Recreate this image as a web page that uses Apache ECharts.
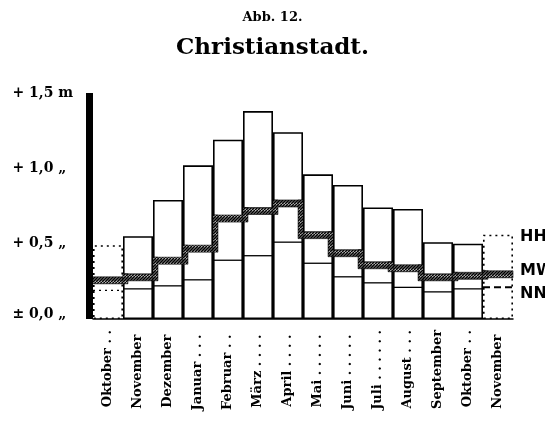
<!DOCTYPE html>
<html><head><meta charset="utf-8">
<script src="https://cdn.jsdelivr.net/npm/echarts@6/dist/echarts.min.js"></script>
<style>html,body{margin:0;padding:0;background:#fff}#c{width:545px;height:428px}</style>
</head><body><div id="c"></div>
<script>
const months = ['Oktober','November','Dezember','Januar','Februar','März','April','Mai','Juni','Juli','August','September','Oktober','November'];
const hhw = [0.49,0.55,0.79,1.02,1.19,1.38,1.24,0.96,0.89,0.74,0.73,0.51,0.50,0.56];
const mw  = [0.28,0.30,0.41,0.49,0.69,0.74,0.79,0.58,0.46,0.38,0.36,0.30,0.31,0.32];
const nnw = [0.19,0.20,0.22,0.26,0.39,0.42,0.51,0.37,0.28,0.24,0.21,0.18,0.20,0.21];
const yTickLabels = ['± 0,0 „','+ 0,5 „','+ 1,0 „','+ 1,5 m'];
const sideLabels = ['HHW','MW','NNW'];

const n = months.length;
const isPartial = i => i === 0 || i === n - 1;

function hatch(){
  const c = document.createElement('canvas'); c.width = 6; c.height = 6;
  const g = c.getContext('2d');
  g.fillStyle = '#fff'; g.fillRect(0,0,6,6);
  g.strokeStyle = '#000'; g.lineWidth = 1.6;
  g.beginPath();
  for (let k = -6; k <= 12; k += 3) { g.moveTo(k, 6); g.lineTo(k + 6, 0); }
  g.stroke();
  return c;
}
const hatchFill = {image: hatch(), repeat: 'repeat'};
const BAND = 7;

const chart = echarts.init(document.getElementById('c'), null, {renderer:'canvas'});
chart.setOption({
  animation: false,
  backgroundColor: '#fff',
  title: [
    {text: 'Abb. 12.', left: 'center', top: 6, textStyle: {fontFamily: 'DejaVu Serif', fontWeight: 'bold', fontSize: 13, color: '#000'}},
    {text: 'Christianstadt.', left: 'center', top: 32, textStyle: {fontFamily: 'DejaVu Serif', fontWeight: 'bold', fontSize: 23, color: '#000'}}
  ],
  grid: {left: 93, right: 32, top: 93, bottom: 109},
  xAxis: {
    type: 'category', data: months, boundaryGap: true,
    axisLine: {show: true, lineStyle: {color: '#000', width: 1.5}},
    axisTick: {show: false},
    axisLabel: {
      rotate: 90, margin: 11, interval: 0, width: 82, overflow: 'truncate', ellipsis: '',
      color: '#000', fontFamily: 'DejaVu Serif', fontWeight: 'bold', fontSize: 13,
      formatter: v => v + ' . . . . . . . . . . . . . .'
    },
    splitLine: {show: false}
  },
  yAxis: {
    type: 'value', min: 0, max: 1.5, interval: 0.5, offset: 3.5,
    axisLine: {show: true, onZero: false, lineStyle: {color: '#000', width: 7, cap: 'butt'}},
    axisTick: {show: false},
    splitLine: {show: false},
    axisLabel: {
      align: 'left', margin: 77, color: '#000', fontFamily: 'DejaVu Serif', fontWeight: 'bold', fontSize: 14,
      formatter: (v) => { const i = Math.round(v / 0.5); return i === 0 ? '{z|' + yTickLabels[0] + '}' : yTickLabels[i]; },
      rich: {z: {fontFamily: 'DejaVu Serif', fontWeight: 'bold', fontSize: 14, color: '#000', padding: [0,0,10,0]}}
    }
  },
  graphic: sideLabels.map((t, k) => ({
    type: 'text', left: 520, top: [229, 263, 286][k],
    style: {text: t, fill: '#000', font: 'bold 16px "DejaVu Sans"'}
  })),
  series: [
    {
      type: 'bar', name: 'HHW', barWidth: '100%', barGap: '-100%', z: 2,
      data: hhw.map((v, i) => ({value: v, itemStyle: {borderType: isPartial(i) ? [2, 4] : 'solid'}})),
      itemStyle: {color: 'rgba(255,255,255,0)', borderColor: '#000', borderWidth: 1.6}
    },
    {
      type: 'custom', name: 'NNW', z: 3,
      data: nnw.map((v, i) => [i, v]),
      renderItem: (params, api) => {
        const i = api.value(0);
        const p = api.coord([i, api.value(1)]);
        const w = api.size([1, 0])[0];
        let dash = null, lw = 1.3;
        if (i === 0) dash = [2, 4];
        if (i === n - 1) { dash = [7, 4]; lw = 2; }
        return {type: 'line', shape: {x1: p[0] - w/2, y1: p[1], x2: p[0] + w/2, y2: p[1]},
          style: {stroke: '#000', lineWidth: lw, lineDash: dash}};
      }
    },
    {
      type: 'custom', name: 'MW', z: 4,
      data: mw.map((v, i) => [i, v, i > 0 ? mw[i - 1] : v]),
      renderItem: (params, api) => {
        const i = api.value(0);
        const p = api.coord([i, api.value(1)]);
        const pp = api.coord([i, api.value(2)]);
        const w = api.size([1, 0])[0];
        const x0 = p[0] - w/2;
        const children = [{
          type: 'rect', shape: {x: x0, y: p[1], width: w, height: BAND},
          style: {fill: hatchFill, stroke: '#000', lineWidth: 0.6}
        }];
        if (i > 0 && Math.abs(pp[1] - p[1]) > 1) {
          if (p[1] < pp[1]) {
            children.push({type: 'rect', shape: {x: x0, y: p[1], width: 5, height: pp[1] - p[1] + BAND},
              style: {fill: hatchFill, stroke: '#000', lineWidth: 0.5}});
          } else {
            children.push({type: 'rect', shape: {x: x0 - 5, y: pp[1], width: 5, height: p[1] - pp[1] + BAND},
              style: {fill: hatchFill, stroke: '#000', lineWidth: 0.5}});
          }
        }
        return {type: 'group', children};
      }
    }
  ]
});
</script></body></html>
